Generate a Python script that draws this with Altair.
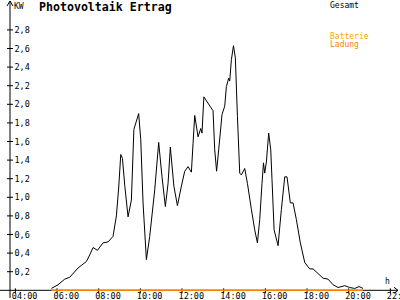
import altair as alt
import pandas as pd

# ---- data ----
hours = [5.73, 6.05, 6.37, 6.61, 7.01, 7.41, 7.57, 7.73, 7.94, 8.21, 8.45, 8.69,
         8.85, 8.96, 9.06, 9.14, 9.25, 9.41, 9.57, 9.69, 9.92, 10.02, 10.13, 10.29,
         10.45, 10.69, 10.88, 11.04, 11.20, 11.33, 11.44, 11.61, 11.78, 11.97, 12.13,
         12.29, 12.45, 12.53, 12.61, 12.77, 12.90, 12.96, 13.05, 13.49, 13.57, 13.66,
         13.76, 13.92, 14.05, 14.13, 14.24, 14.29, 14.37, 14.47, 14.56, 14.66, 14.77,
         14.85, 15.01, 15.14, 15.33, 15.49, 15.62, 15.73, 15.84, 15.91, 15.97, 16.05,
         16.16, 16.26, 16.32, 16.42, 16.61, 16.77, 16.93, 17.04, 17.20, 17.33, 17.49,
         17.68, 17.89, 18.13, 18.29, 18.53, 18.77, 19.01, 19.25, 19.49, 19.81, 20.05,
         20.29, 20.50, 20.69]
gesamt_kw = [0.02, 0.06, 0.12, 0.14, 0.24, 0.31, 0.38, 0.46, 0.43, 0.51, 0.52, 0.58,
             0.80, 1.10, 1.46, 1.42, 1.13, 0.79, 0.97, 1.73, 1.90, 1.62, 0.94, 0.33,
             0.58, 1.08, 1.59, 1.22, 0.90, 1.15, 1.54, 1.12, 0.91, 1.12, 1.28,
             1.33, 1.27, 1.58, 1.88, 1.65, 1.74, 1.69, 2.08, 1.93, 1.51, 1.28,
             1.51, 1.89, 1.98, 2.19, 2.28, 2.25, 2.48, 2.63, 2.50, 1.87, 1.26,
             1.24, 1.31, 1.15, 0.87, 0.65, 0.51, 0.76, 1.15, 1.37, 1.26, 1.38,
             1.69, 1.51, 1.19, 0.65, 0.48, 0.87, 1.22, 1.22, 0.94, 0.94, 0.76,
             0.51, 0.30, 0.23, 0.23, 0.18, 0.13, 0.12, 0.06, 0.03, 0.05, 0.03,
             0.02, 0.04, 0.02]
ladung_hours = [5.73, 20.69]
ladung_kw = [0.0, 0.0]

y_ticks = [0.2, 0.4, 0.6, 0.8, 1.0, 1.2, 1.4, 1.6, 1.8, 2.0, 2.2, 2.4, 2.6, 2.8]
y_tick_labels = ["0,2", "0,4", "0,6", "0,8", "1,0", "1,2", "1,4", "1,6", "1,8",
                 "2,0", "2,2", "2,4", "2,6", "2,8"]
x_ticks = [4, 6, 8, 10, 12, 14, 16, 18, 20, 22]
x_tick_labels = ["04:00", "06:00", "08:00", "10:00", "12:00", "14:00", "16:00",
                 "18:00", "20:00", "22:00"]

# ---- scales (plot area = whole 400x300 page) ----
PX_H = 20.833   # pixels per hour
PX_KW = 93.0    # pixels per kW
X0 = 15.35      # pixel of 04:00
Y0 = 290.3      # pixel of 0 kW
W, H = 400, 300
xdom = [4 - X0 / PX_H, 4 + (W - X0) / PX_H]
ydom = [-(H - Y0) / PX_KW, Y0 / PX_KW]
xs = alt.Scale(domain=xdom, nice=False, zero=False)
ys = alt.Scale(domain=ydom, nice=False, zero=False)

def hx(px):
    return 4 + (px - X0) / PX_H

def vy(py):
    return (Y0 - py) / PX_KW

FONT = "DejaVu Sans Mono"

curve_df = pd.DataFrame({"h": hours, "kw": gesamt_kw})
lad_df = pd.DataFrame({"h": ladung_hours, "kw": ladung_kw})

# axis segments
ax_x = hx(10)
segs = [
    (ax_x, ax_x, vy(298), vy(1)),                 # y axis
    (hx(0), hx(398), 0, 0),                       # x axis
    (ax_x, hx(7), vy(1), vy(6)),                  # y arrow
    (ax_x, hx(13), vy(1), vy(6)),
    (hx(398), hx(394), 0, vy(Y0 - 3)),            # x arrow
    (hx(398), hx(394), 0, vy(Y0 + 3)),
]
for t in y_ticks:
    segs.append((hx(7), hx(13), t, t))
for t in x_ticks:
    segs.append((t, t, vy(Y0 - 2), vy(Y0 + 3)))
seg_df = pd.DataFrame(segs, columns=["x", "x2", "y", "y2"])

ylab_df = pd.DataFrame({"h": [hx(14.5)] * len(y_ticks), "kw": y_ticks, "t": y_tick_labels})
xlab_df = pd.DataFrame({"h": [t - 3.5 / PX_H for t in x_ticks],
                        "kw": [vy(299)] * len(x_ticks), "t": x_tick_labels})

base_x = lambda f: alt.X(f, type="quantitative", scale=xs, axis=None)
base_y = lambda f: alt.Y(f, type="quantitative", scale=ys, axis=None)

axes = alt.Chart(seg_df).mark_rule(color="black", strokeWidth=1).encode(
    x=base_x("x"), x2="x2", y=base_y("y"), y2="y2")

ladung = alt.Chart(lad_df).mark_line(color="#FF8000", strokeWidth=1.5).encode(
    x=base_x("h"), y=base_y("kw"))

curve = alt.Chart(curve_df).mark_line(color="black", strokeWidth=1).encode(
    x=base_x("h"), y=base_y("kw"))

ylabels = alt.Chart(ylab_df).mark_text(font=FONT, fontSize=8.5, align="left",
                                       baseline="middle", color="black").encode(
    x=base_x("h"), y=base_y("kw"), text="t")

xlabels = alt.Chart(xlab_df).mark_text(font=FONT, fontSize=8.5, align="left",
                                       baseline="alphabetic", color="black").encode(
    x=base_x("h"), y=base_y("kw"), text="t")

def label(txt, x, y, size=8, color="black", weight="normal"):
    return alt.Chart(pd.DataFrame({"t": [txt]})).mark_text(
        font=FONT, fontSize=size, align="left", baseline="alphabetic",
        color=color, fontWeight=weight).encode(
        x=alt.value(x), y=alt.value(y), text="t")

texts = [
    label("Photovoltaik Ertrag", 39, 10.5, size=11.6, weight="bold"),
    label("KW", 14, 8.5),
    label("h", 385, 283.5),
    label("Gesamt", 330, 7.5),
    label("Batterie", 330, 39),
    label("Ladung", 330, 47),
]

chart = alt.layer(axes, curve, ladung, ylabels, xlabels, *texts).properties(
    width=W, height=H, padding=0, autosize=alt.AutoSizeParams(type="none"),
    background="white",
).configure_view(stroke=None)

# colour of legend texts
chart.layer[-2].mark.color = "#FFA500"
chart.layer[-1].mark.color = "#FF8000"

chart.save("out.html", embed_options={"renderer": "svg", "actions": False})
